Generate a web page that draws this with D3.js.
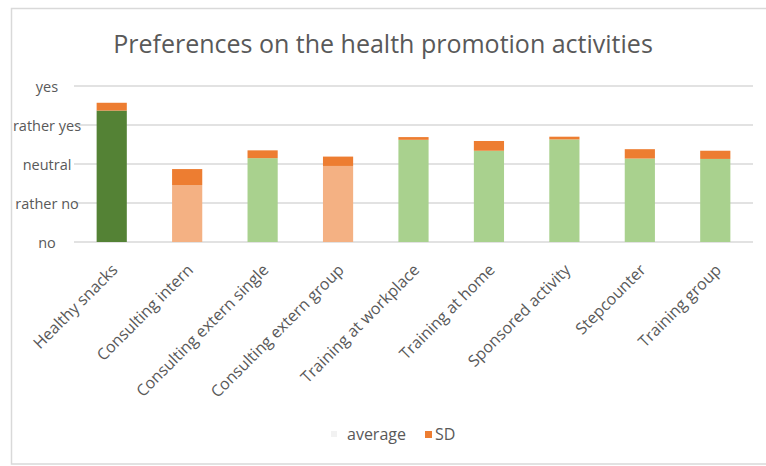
<!DOCTYPE html>
<html>
<head>
<meta charset="utf-8">
<script src="https://cdn.jsdelivr.net/npm/d3@7/dist/d3.min.js"></script>
<style>
  html, body { margin: 0; padding: 0; background: #fff; }
  svg { display: block; }
  text { font-family: "Open Sans", "Liberation Sans", sans-serif; fill: #595959; }
</style>
</head>
<body>
<svg id="chart" width="766" height="466"></svg>
<script>
// Activities and their mean rating (1 = no ... 5 = yes) with standard deviation
const categories = [
  "Healthy snacks", "Consulting intern", "Consulting extern single",
  "Consulting extern group", "Training at workplace", "Training at home",
  "Sponsored activity", "Stepcounter", "Training group"
];
const averages = [4.37, 2.46, 3.15, 2.95, 3.62, 3.34, 3.63, 3.14, 3.13];
const sds      = [0.20, 0.41, 0.20, 0.24, 0.07, 0.25, 0.07, 0.24, 0.21];
// colour group per activity: top pick, not preferred, preferred
const groups   = ["top", "low", "high", "low", "high", "high", "high", "high", "high"];
const yTicks   = [1, 2, 3, 4, 5];
const yLabels  = ["no", "rather no", "neutral", "rather yes", "yes"];
const title    = "Preferences on the health promotion activities";

const groupColor = { top: "#548235", low: "#F4B183", high: "#A9D18E" };
const sdColor = "#ED7D31";

const svg = d3.select("#chart");
const W = 766, H = 466;

// chart area frame
svg.append("rect")
  .attr("x", 11.5).attr("y", 8.5)
  .attr("width", W + 10).attr("height", 455.5)
  .attr("fill", "#fff").attr("stroke", "#d9d9d9").attr("stroke-width", 1.5);

const x = d3.scaleBand()
  .domain(categories)
  .range([74, 753])
  .paddingInner(0.6)
  .paddingOuter(0.3);

const y = d3.scaleLinear().domain([1, 5]).range([242, 86]);

// title
svg.append("text")
  .attr("x", 383).attr("y", 53)
  .attr("text-anchor", "middle")
  .style("font-size", "25px")
  .text(title);

// gridlines
svg.append("g")
  .selectAll("line")
  .data(yTicks)
  .join("line")
  .attr("x1", 74).attr("x2", 753)
  .attr("y1", d => y(d)).attr("y2", d => y(d))
  .attr("stroke", "#d9d9d9").attr("stroke-width", 1.5);

// y axis labels
const yAxis = d3.axisLeft(y)
  .tickValues(yTicks)
  .tickFormat((d, i) => yLabels[i])
  .tickSize(0);
const yg = svg.append("g").attr("transform", "translate(47,0)").call(yAxis);
yg.select(".domain").remove();
yg.selectAll("text")
  .attr("x", 0).attr("dy", "0.35em")
  .attr("text-anchor", "middle")
  .style("font-size", "14.5px");

// average bars
svg.append("g")
  .selectAll("rect")
  .data(categories)
  .join("rect")
  .attr("x", d => x(d))
  .attr("width", x.bandwidth())
  .attr("y", (d, i) => y(averages[i]))
  .attr("height", (d, i) => y(1) - y(averages[i]))
  .attr("fill", (d, i) => groupColor[groups[i]]);

// SD stacked on top
svg.append("g")
  .selectAll("rect")
  .data(categories)
  .join("rect")
  .attr("x", d => x(d))
  .attr("width", x.bandwidth())
  .attr("y", (d, i) => y(averages[i] + sds[i]))
  .attr("height", (d, i) => y(averages[i]) - y(averages[i] + sds[i]))
  .attr("fill", sdColor);

// x axis labels, rotated
const xAxis = d3.axisBottom(x).tickSize(0);
const xg = svg.append("g").attr("transform", "translate(0,242)").call(xAxis);
xg.select(".domain").remove();
xg.selectAll("text")
  .attr("text-anchor", "end")
  .attr("transform", "translate(3,25) rotate(-45)")
  .attr("x", 0).attr("y", 0).attr("dy", "0.35em")
  .style("font-size", "16px");

// legend
const lg = svg.append("g");
lg.append("rect").attr("x", 331).attr("y", 431).attr("width", 6).attr("height", 6).attr("fill", "#f2f2f2");
lg.append("text").attr("x", 347).attr("y", 434).attr("dy", "0.35em").style("font-size", "16px").text("average");
lg.append("rect").attr("x", 425).attr("y", 431).attr("width", 7).attr("height", 7).attr("fill", sdColor);
lg.append("text").attr("x", 435).attr("y", 434).attr("dy", "0.35em").style("font-size", "16px").text("SD");
</script>
</body>
</html>
